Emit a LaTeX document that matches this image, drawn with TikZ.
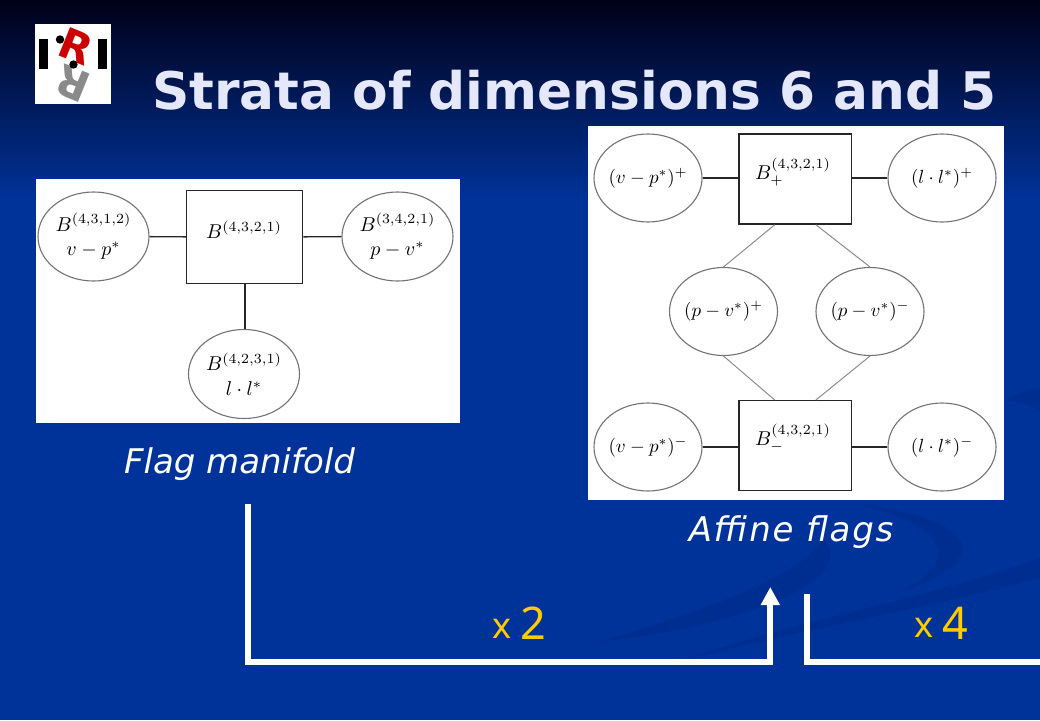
\documentclass[tikz,border=0pt]{standalone}
\usepackage{fontspec}
\setmainfont{DejaVu Sans}
\newfontfamily\numfont{Noto Sans}
\usetikzlibrary{shapes.geometric,arrows.meta,calc,shadings}
\definecolor{slideblue}{HTML}{003399}
\definecolor{slidetop}{HTML}{000018}
\definecolor{swoosh}{HTML}{002E90}
\definecolor{titlewhite}{HTML}{E4E8FA}
\definecolor{goldnum}{HTML}{FFCC00}
\definecolor{logored}{HTML}{CC0000}
\definecolor{loggray}{HTML}{8A8A8A}
\newcommand\mth[2][2]{\scalebox{#1}{$#2$}}
\newcommand\mtc[1]{\makebox[0pt]{\scalebox{1.9}{$#1$}}}
\tikzset{
  oval/.style={draw=black!55,ellipse,line width=1.1pt,inner sep=0pt,align=center,minimum width=108pt,minimum height=88pt},
  sq/.style={draw=black!85,rectangle,line width=1.4pt,inner sep=0pt,fill=white},
  link/.style={draw=black!85,line width=1.4pt},
  thin link/.style={draw=black!45,line width=1pt},
  route/.style={draw=white,line width=6pt},
  capt/.style={text=white,font=\fontsize{34}{40}\selectfont\itshape,inner sep=0pt},
  ttl/.style={font=\fontsize{51.8}{60}\bfseries\selectfont,inner sep=0pt},
  gold/.style={text=goldnum,inner sep=0pt},
  smallx/.style={gold,font=\fontsize{36}{38}\numfont\selectfont},
  bignum/.style={gold,font=\fontsize{45}{48}\numfont\selectfont},
  logoletter/.style={font=\fontsize{42}{42}\bfseries\selectfont,inner sep=0pt},
}
\begin{document}
\begin{tikzpicture}[x=1pt,y=-1pt]
\useasboundingbox (0,0) rectangle (1040,720);
% background
\fill[slideblue] (0,0) rectangle (1040,720);
\shade[top color=slidetop,bottom color=slideblue] (0,0) rectangle (1040,200);
% swooshes
\fill[swoosh] (600,642) .. controls (720,605) and (800,575) .. (822,540) .. controls (838,550) and (832,572) .. (800,590) .. controls (760,610) and (700,630) .. (600,642) -- cycle;
\fill[swoosh] (683,660) .. controls (800,620) and (920,600) .. (1040,558) -- (1040,578) .. controls (920,610) and (800,630) .. (683,660) -- cycle;
\fill[swoosh] (860,505) .. controls (960,515) and (1010,555) .. (900,592) .. controls (965,560) and (945,525) .. (860,505) -- cycle;
\fill[swoosh] (1006,400) .. controls (1018,392) and (1030,390) .. (1040,388) -- (1040,410) .. controls (1030,405) and (1018,402) .. (1006,400) -- cycle;
% logo
\fill[white] (35,24) rectangle (111,104);
\fill[black] (39,39) rectangle (48,69);
\fill[black] (98,39) rectangle (107,69);
\node[logoletter,text=loggray,rotate=158] (logoG) at (73,84) {R};
\node[logoletter,text=logored,rotate=-22] (logoR) at (76,46) {R};
\fill[black] (60,39.5) circle (4.2);
\fill[black] (73.5,64.5) circle (4.2);
% title
\node[ttl,text=titlewhite,anchor=base west] (title) at (152,109) {Strata of dimensions 6 and 5};
% left picture
\fill[white] (36,179) rectangle (460,423);
\node[sq,minimum width=116pt,minimum height=92.5pt] (B) at (244.7,237) {};
\node[inner sep=0pt] (Bt) at (244,230) {\mth{B^{(4,3,2,1)}}};
\node[oval,minimum width=111pt,minimum height=89pt] (L1) at (93.5,236.5) {\mth{B^{(4,3,1,2)}}\\[10pt]\mth{v-p^*}};
\node[oval,minimum width=111pt,minimum height=89pt] (L2) at (397.5,236.5) {\mth{B^{(3,4,2,1)}}\\[10pt]\mth{p-v^*}};
\node[oval,minimum width=111pt,minimum height=89pt] (L3) at (244,374) {\mth{B^{(4,2,3,1)}}\\[10pt]\mth{l\cdot l^*}};
\draw[link] (L1) -- (B);
\draw[link] (B) -- (L2);
\draw[link] (B.south) ++(0.3,0) coordinate (Bs) (Bs) -- (Bs |- L3.north);
% right picture
\fill[white] (588,126) rectangle (1004,500);
\node[sq,minimum width=112.5pt,minimum height=90pt] (P) at (795.3,179) {};
\node[sq,minimum width=112.5pt,minimum height=89.5pt] (M) at (795.3,445.5) {};
\node[inner sep=0pt] (Pt) at (793,172) {\mth{B_+^{(4,3,2,1)}}};
\node[inner sep=0pt] (Mt) at (793,438) {\mth{B_-^{(4,3,2,1)}}};
\node[oval] (a) at (648,178) {\mtc{(v-p^*)^+}};
\node[oval] (b) at (942,178) {\mtc{(l\cdot l^*)^+}};
\node[oval] (c) at (723.5,311.5) {\mtc{(p-v^*)^+}};
\node[oval] (d) at (870,311.5) {\mtc{(p-v^*)^-}};
\node[oval] (e) at (648,447) {\mtc{(v-p^*)^-}};
\node[oval] (f) at (942,447) {\mtc{(l\cdot l^*)^-}};
\draw[link] (a) -- (a -| P.west);
\draw[link] (b) -- (b -| P.east);
\draw[link] (e) -- (e -| M.west);
\draw[link] (f) -- (f -| M.east);
\draw[thin link] ($(P.south west)!0.32!(P.south east)$) -- (c.north);
\draw[thin link] ($(P.south west)!0.68!(P.south east)$) -- (d.north);
\draw[thin link] ($(M.north west)!0.32!(M.north east)$) -- (c.south);
\draw[thin link] ($(M.north west)!0.68!(M.north east)$) -- (d.south);
% captions
\node[capt] (cap1) at (239.5,464) {Flag manifold};
\node[capt] (cap2) at (791,532) {\addfontfeature{LetterSpace=5}Affine flags};
% routes
\coordinate (r1a) at (248,504);
\coordinate (r1b) at (248,662);
\coordinate (r1c) at (770.3,662);
\coordinate (r1d) at (770.3,587);
\coordinate (r2a) at (807,594);
\coordinate (r2b) at (807,662);
\coordinate (r2c) at (1040,662);
\draw[route,-{Triangle[length=18pt,width=18pt]}] (r1a) -- (r1b) -- (r1c) -- (r1d);
\draw[route] (r2a) -- (r2b) -- (r2c);
% multipliers
\node[smallx] (x2) at (502.5,629) {x};
\node[bignum] (n2) at (533,623) {2};
\node[smallx] (x4) at (924.5,628) {x};
\node[bignum] (n4) at (955,623) {4};
\end{tikzpicture}
\end{document}
